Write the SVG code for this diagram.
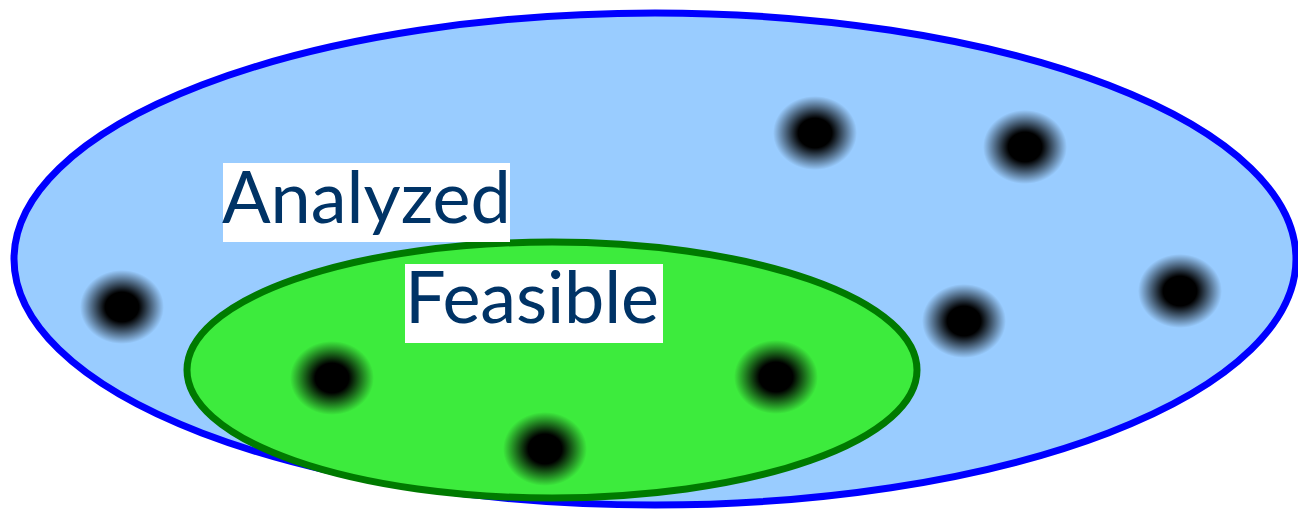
<svg xmlns="http://www.w3.org/2000/svg" width="1298" height="511" viewBox="0 0 1298 511">
<defs>
<radialGradient id="dotg" cx="0.5" cy="0.5" r="0.5">
<stop offset="0" stop-color="#000" stop-opacity="1"/>
<stop offset="0.4" stop-color="#000" stop-opacity="1"/>
<stop offset="1" stop-color="#000" stop-opacity="0"/>
</radialGradient>
</defs>
<style>
.lbl{font-family:Lato,"Liberation Sans",sans-serif;font-size:72px;fill:#003366}
.bg{fill:#fff}
.dot{fill:url(#dotg)}
</style>
<rect width="1298" height="511" fill="#fff"/>
<g id="analyzed">
<ellipse cx="655" cy="259" rx="641" ry="246" fill="#99ccff" stroke="#0000ff" stroke-width="7"/>
</g>
<g id="feasible">
<ellipse cx="552" cy="370" rx="365" ry="128" fill="#3deb3d" stroke="#007a00" stroke-width="7"/>
</g>
<g id="points">
<ellipse class="dot" cx="815" cy="133" rx="42" ry="37"/>
<ellipse class="dot" cx="1025" cy="147" rx="42" ry="37"/>
<ellipse class="dot" cx="122" cy="307" rx="42" ry="37"/>
<ellipse class="dot" cx="332" cy="378" rx="42" ry="37"/>
<ellipse class="dot" cx="776" cy="377" rx="42" ry="37"/>
<ellipse class="dot" cx="545" cy="449" rx="42" ry="37"/>
<ellipse class="dot" cx="964" cy="321" rx="42" ry="37"/>
<ellipse class="dot" cx="1180" cy="291" rx="42" ry="37"/>
</g>
<g id="label-analyzed">
<rect class="bg" x="223" y="163" width="287" height="79"/>
<text class="lbl" x="222" y="223">Analyzed</text>
</g>
<g id="label-feasible">
<rect class="bg" x="405" y="264" width="258" height="79"/>
<text class="lbl" x="405" y="323" textLength="254">Feasible</text>
</g>
</svg>
